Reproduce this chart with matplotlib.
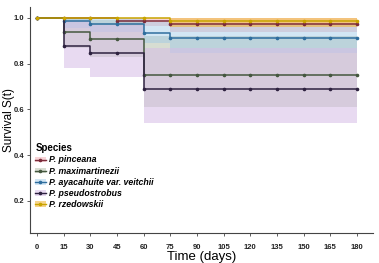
import matplotlib
matplotlib.use("Agg")
import matplotlib.pyplot as plt
from matplotlib.lines import Line2D
from matplotlib.patches import Patch

plt.rcParams['font.family'] = ['Liberation Sans Narrow', 'Liberation Sans', 'DejaVu Sans']

# survival curves (step times and values)
species = ["P. pinceana", "P. maximartinezii", "P. ayacahuite var. veitchii",
           "P. pseudostrobus", "P. rzedowskii"]

times_pin = [0, 45, 75, 180]
surv_pin = [1.0, 0.988, 0.974, 0.974]
low_pin = [1.0, 0.965, 0.94, 0.94]
up_pin = [1.0, 1.0, 1.0, 1.0]

times_max = [0, 15, 30, 60, 180]
surv_max = [1.0, 0.937, 0.908, 0.749, 0.749]
low_max = [1.0, 0.87, 0.83, 0.61, 0.61]
up_max = [1.0, 1.0, 0.99, 0.92, 0.92]

times_aya = [0, 15, 30, 60, 75, 180]
surv_aya = [1.0, 0.985, 0.974, 0.935, 0.911, 0.911]
low_aya = [1.0, 0.955, 0.94, 0.89, 0.845, 0.845]
up_aya = [1.0, 1.0, 1.0, 0.98, 0.97, 0.97]

times_pse = [0, 15, 30, 60, 180]
surv_pse = [1.0, 0.877, 0.847, 0.687, 0.687]
low_pse = [1.0, 0.78, 0.742, 0.54, 0.54]
up_pse = [1.0, 0.985, 0.97, 0.87, 0.87]

times_rze = [0, 75, 180]
surv_rze = [1.0, 0.985, 0.985]
low_rze = [1.0, 0.96, 0.96]
up_rze = [1.0, 1.0, 1.0]

censor_times = [0, 15, 30, 45, 60, 75, 90, 105, 120, 135, 150, 165, 180]
xticks = [0, 15, 30, 45, 60, 75, 90, 105, 120, 135, 150, 165, 180]
yticks = [0.2, 0.4, 0.6, 0.8, 1.0]

line_cols = ["#7b2c3b", "#44573f", "#2f6e9e", "#2e2240", "#c9a400"]
fill_cols = ["#f0a0a8", "#a8b49c", "#9cc8e8", "#d6bde6", "#f0b840"]
fill_alpha = [0.45, 0.45, 0.45, 0.55, 0.6]

curves = [
    (times_pin, surv_pin, low_pin, up_pin),
    (times_max, surv_max, low_max, up_max),
    (times_aya, surv_aya, low_aya, up_aya),
    (times_pse, surv_pse, low_pse, up_pse),
    (times_rze, surv_rze, low_rze, up_rze),
]


def value_at(t, times, vals):
    v = vals[0]
    for tt, vv in zip(times, vals):
        if tt <= t:
            v = vv
    return v


fig = plt.figure(figsize=(3.79, 2.63), dpi=100)
ax = fig.add_axes([0.079, 0.114, 0.905, 0.86])

# confidence bands first
for i, (t, s, lo, hi) in enumerate(curves):
    ax.fill_between(t, lo, hi, step="post", color=fill_cols[i], alpha=fill_alpha[i], linewidth=0)

# lines and censor marks
for i, (t, s, lo, hi) in enumerate(curves):
    ax.step(t, s, where="post", color=line_cols[i], linewidth=1.1)
    cs = [value_at(c, t, s) for c in censor_times]
    ax.plot(censor_times, cs, linestyle="none", marker="o", markersize=1.6,
            color=line_cols[i])

ax.set_xlim(-4, 189)
ax.set_ylim(0.059, 1.048)
ax.set_xticks(xticks)
ax.set_xticklabels([str(x) for x in xticks])
ax.set_yticks(yticks)
ax.set_yticklabels(["0.2", "0.4", "0.6", "0.8", "1.0"])
ax.tick_params(axis="both", labelsize=5.5, length=2, width=0.6, color="#444444")
ax.tick_params(axis="x", pad=6)
ax.tick_params(axis="y", pad=2)
for lab in ax.get_xticklabels() + ax.get_yticklabels():
    lab.set_fontweight("bold")
    lab.set_color("#222222")

for sp in ["top", "right"]:
    ax.spines[sp].set_visible(False)
for sp in ["left", "bottom"]:
    ax.spines[sp].set_color("#444444")
    ax.spines[sp].set_linewidth(0.8)

ax.set_xlabel("Time (days)", fontsize=9.5, labelpad=0)
ax.set_ylabel("Survival S(t)", fontsize=8.5)
ax.yaxis.set_label_coords(-0.045, 0.5)

# legend with band colour behind each line key
handles = []
for i in range(len(species)):
    handles.append((Patch(facecolor=fill_cols[i], alpha=fill_alpha[i], edgecolor="none"),
                    Line2D([], [], color=line_cols[i], linewidth=1.0, marker="o", markersize=1.6)))
leg = ax.legend(handles, species, title="Species", loc="upper left",
                bbox_to_anchor=(0.0, 0.42), frameon=False,
                prop={"size": 6.3, "style": "italic", "weight": "bold"},
                handlelength=1.2, handleheight=0.6, handletextpad=0.4,
                labelspacing=0.25, borderaxespad=0.2)
leg.get_title().set_fontweight("bold")
leg.get_title().set_fontsize(7)
leg._legend_box.align = "left"

fig.savefig("out.png", dpi=100)
